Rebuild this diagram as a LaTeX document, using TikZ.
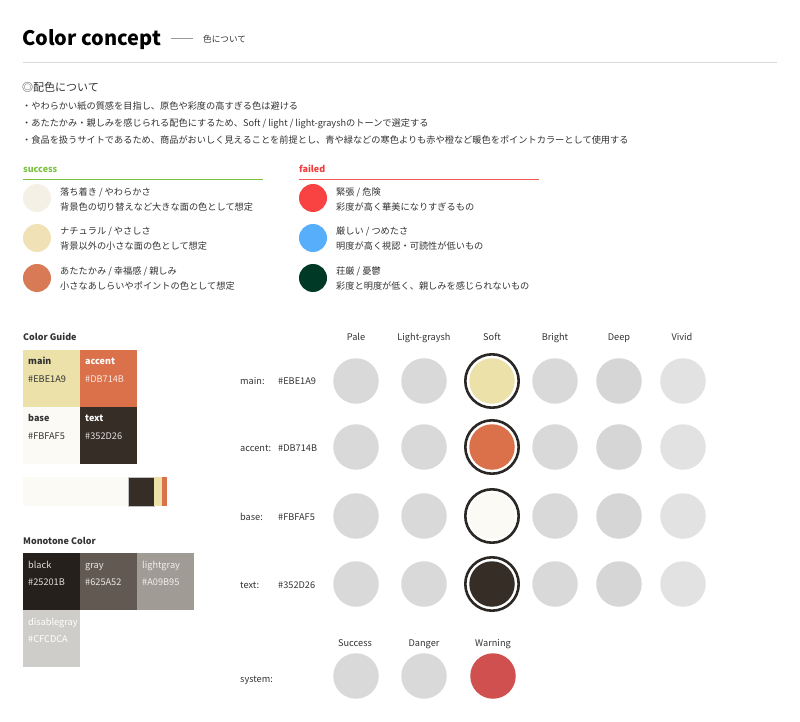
\documentclass[tikz,border=0pt]{standalone}
\usepackage{fontspec}
\setmainfont{Noto Sans CJK JP}
\definecolor{txtgray}{HTML}{333333}
\definecolor{cmain}{HTML}{EBE1A9}
\definecolor{caccent}{HTML}{DB714B}
\definecolor{cbase}{HTML}{FBFAF5}
\definecolor{ctext}{HTML}{352D26}
\definecolor{cblack}{HTML}{25201B}
\definecolor{cgray}{HTML}{625A52}
\definecolor{clightgray}{HTML}{A09B95}
\definecolor{cdisable}{HTML}{CFCDCA}
\definecolor{sgreen}{HTML}{7CC242}
\definecolor{fred}{HTML}{F03C3C}
\definecolor{dotgray}{HTML}{D9D9D9}
\definecolor{dotdeep}{HTML}{D6D6D6}
\definecolor{dotlight}{HTML}{E2E2E2}
\definecolor{ringc}{HTML}{2B2725}
\definecolor{warn}{HTML}{D05050}
\tikzset{
  txt/.style={anchor=west, inner sep=0pt, text height=8.3pt, text depth=0.7pt, text=txtgray, font=\fontsize{9.2}{11}\selectfont},
  ctxt/.style={inner sep=0pt, text height=8.3pt, text depth=0.7pt, text=txtgray, font=\fontsize{9.2}{11}\selectfont},
  swatch/.style={anchor=north west, inner sep=0pt, minimum width=57pt, minimum height=57pt, draw=none},
  dot/.style={circle, inner sep=0pt, minimum size=45.5pt, fill=dotgray, draw=none},
  ring/.style={circle, inner sep=0pt, minimum size=53.4pt, draw=ringc, line width=2.6pt},
  sdot/.style={circle, inner sep=0pt, minimum size=28pt, draw=none},
  bseg/.style={anchor=north west, inner sep=0pt, minimum height=29pt, draw=none},
}
\begin{document}
\begin{tikzpicture}[x=1pt,y=-1pt]
\useasboundingbox[fill=white] (0,0) rectangle (800,722);
% header
\node[anchor=west, inner sep=0pt, font=\fontsize{20}{24}\selectfont\bfseries, text=black] (title) at (22,40) {Color concept};
\coordinate (dashA) at (171,38);
\coordinate (dashB) at (193,38);
\draw[color=black!40, line width=0.8pt] (dashA) -- (dashB);
\node[txt, font=\fontsize{8.6}{10}\selectfont] (sub) at (203,39) {色について};
\coordinate (hlA) at (23,62);
\coordinate (hlB) at (777,62);
\draw[color=black!15, line width=0.8pt] (hlA) -- (hlB);
\node[txt, text height=10pt, text depth=1pt, font=\fontsize{11}{13}\selectfont] (haishoku) at (22,87) {◎配色について};
\node[txt] (b1) at (22,106) {・やわらかい紙の質感を目指し、原色や彩度の高すぎる色は避ける};
\node[txt] (b2) at (22,123) {・あたたかみ・親しみを感じられる配色にするため、Soft / light / light-grayshのトーンで選定する};
\node[txt] (b3) at (22,140) {・食品を扱うサイトであるため、商品がおいしく見えることを前提とし、青や緑などの寒色よりも赤や橙など暖色をポイントカラーとして使用する};
% success
\node[txt, text=sgreen, font=\fontsize{9}{11}\selectfont\bfseries] (succ) at (23,169) {success};
\coordinate (slA) at (23,179);
\coordinate (slB) at (263,179);
\draw[color=sgreen, line width=0.9pt] (slA) -- (slB);
\node[sdot, fill={rgb,255:red,244;green,240;blue,230}] (s1) at (37,198) {};
\node[sdot, fill={rgb,255:red,240;green,226;blue,182}] (s2) at (37,238) {};
\node[sdot, fill={rgb,255:red,217;green,122;blue,87}] (s3) at (37,278) {};
\node[txt] (s1a) at (60,192) {落ち着き / やわらかさ};
\node[txt] (s1b) at (60,207) {背景色の切り替えなど大きな面の色として想定};
\node[txt] (s2a) at (60,231) {ナチュラル / やさしさ};
\node[txt] (s2b) at (60,246) {背景以外の小さな面の色として想定};
\node[txt] (s3a) at (60,271) {あたたかみ / 幸福感 / 親しみ};
\node[txt] (s3b) at (60,286) {小さなあしらいやポイントの色として想定};
% failed
\node[txt, text=fred, font=\fontsize{9}{11}\selectfont\bfseries] (fail) at (299,169) {failed};
\coordinate (flA) at (299,179);
\coordinate (flB) at (539,179);
\draw[color=fred!85, line width=0.9pt] (flA) -- (flB);
\node[sdot, fill={rgb,255:red,249;green,67;blue,67}] (f1) at (313,198) {};
\node[sdot, fill={rgb,255:red,87;green,174;blue,250}] (f2) at (313,238) {};
\node[sdot, fill={rgb,255:red,0;green,58;blue,38}] (f3) at (313,278) {};
\node[txt] (f1a) at (336,192) {緊張 / 危険};
\node[txt] (f1b) at (336,207) {彩度が高く華美になりすぎるもの};
\node[txt] (f2a) at (336,231) {厳しい / つめたさ};
\node[txt] (f2b) at (336,246) {明度が高く視認・可読性が低いもの};
\node[txt] (f3a) at (336,271) {荘厳 / 憂鬱};
\node[txt] (f3b) at (336,286) {彩度と明度が低く、親しみを感じられないもの};
% color guide
\node[txt, font=\fontsize{9}{11}\selectfont\bfseries] (cg) at (23,337) {Color Guide};
\node[swatch, fill=cmain] (gmain) at (23,350) {};
\node[swatch, fill=caccent] (gaccent) at (80,350) {};
\node[swatch, fill=cbase] (gbase) at (23,407) {};
\node[swatch, fill=ctext] (gtext) at (80,407) {};
\node[txt, font=\fontsize{9}{11}\selectfont\bfseries] (lmain) at (28,361) {main};
\node[txt] (hmain) at (28,379) {\#EBE1A9};
\node[txt, text=white, font=\fontsize{9}{11}\selectfont\bfseries] (laccent) at (85,361) {accent};
\node[txt, text=white!85!caccent] (haccent) at (85,379) {\#DB714B};
\node[txt, font=\fontsize{9}{11}\selectfont\bfseries] (lbase) at (28,418) {base};
\node[txt] (hbase) at (28,436) {\#FBFAF5};
\node[txt, text=white, font=\fontsize{9}{11}\selectfont\bfseries] (ltext) at (85,418) {text};
\node[txt, text=white!85!ctext] (htext) at (85,436) {\#352D26};
% bar
\node[bseg, minimum width=105pt, fill=cbase] (bar1) at (23,477) {};
\node[bseg, minimum width=26pt, fill=ctext, draw=black!25, line width=0.4pt] (bar2) at (128,477) {};
\node[bseg, minimum width=8pt, fill=cmain] (bar3) at (154,477) {};
\node[bseg, minimum width=5pt, fill=caccent] (bar4) at (162,477) {};
% monotone
\node[txt, font=\fontsize{9}{11}\selectfont\bfseries] (mono) at (23,541) {Monotone Color};
\node[swatch, fill=cblack] (mblack) at (23,553) {};
\node[swatch, fill=cgray] (mgray) at (80,553) {};
\node[swatch, fill=clightgray] (mlight) at (137,553) {};
\node[swatch, fill=cdisable] (mdis) at (23,610) {};
\node[txt, text=white!85!cblack] (lblack) at (28,565) {black};
\node[txt, text=white!85!cblack] (hblack) at (28,582) {\#25201B};
\node[txt, text=white!85!cgray] (lgray) at (85,565) {gray};
\node[txt, text=white!85!cgray] (hgray) at (85,582) {\#625A52};
\node[txt, text=white!85!clightgray] (llight) at (142,565) {lightgray};
\node[txt, text=white!85!clightgray] (hlight) at (142,582) {\#A09B95};
\node[txt, text=white] (ldis) at (28,622) {disablegray};
\node[txt, text=white] (hdis) at (28,639) {\#CFCDCA};
% tone grid headers
\node[ctxt] (cPale) at (356,337) {Pale};
\node[ctxt] (cLG) at (424,337) {Light-graysh};
\node[ctxt] (cSoft) at (492,337) {Soft};
\node[ctxt] (cBright) at (555,337) {Bright};
\node[ctxt] (cDeep) at (619,337) {Deep};
\node[ctxt] (cVivid) at (682,337) {Vivid};
% row labels
\node[txt] (rmain) at (240,381) {main:};
\node[txt] (rmainh) at (278,381) {\#EBE1A9};
\node[txt] (racc) at (240,448) {accent:};
\node[txt] (racch) at (278,448) {\#DB714B};
\node[txt] (rbase) at (240,517) {base:};
\node[txt] (rbaseh) at (278,517) {\#FBFAF5};
\node[txt] (rtext) at (240,585) {text:};
\node[txt] (rtexth) at (278,585) {\#352D26};
% circles
\foreach \r/\y/\c in {m/381/cmain, a/447/caccent, b/516/cbase, t/584/ctext}{
  \node[dot] (\r1) at (356,\y) {};
  \node[dot] (\r2) at (424,\y) {};
  \node[dot, fill=\c] (\r3) at (492,\y) {};
  \node[ring] (\r3ring) at (492,\y) {};
  \node[dot] (\r4) at (555,\y) {};
  \node[dot, fill=dotdeep] (\r5) at (619,\y) {};
  \node[dot, fill=dotlight] (\r6) at (683,\y) {};
}
% system
\node[ctxt] (hsucc) at (355,643) {Success};
\node[ctxt] (hdan) at (424,643) {Danger};
\node[ctxt] (hwarn) at (493,643) {Warning};
\node[txt] (rsys) at (240,679) {system:};
\node[dot] (sy1) at (356,676) {};
\node[dot] (sy2) at (424,676) {};
\node[dot, fill=warn] (sy3) at (493,676) {};
\end{tikzpicture}
\end{document}
